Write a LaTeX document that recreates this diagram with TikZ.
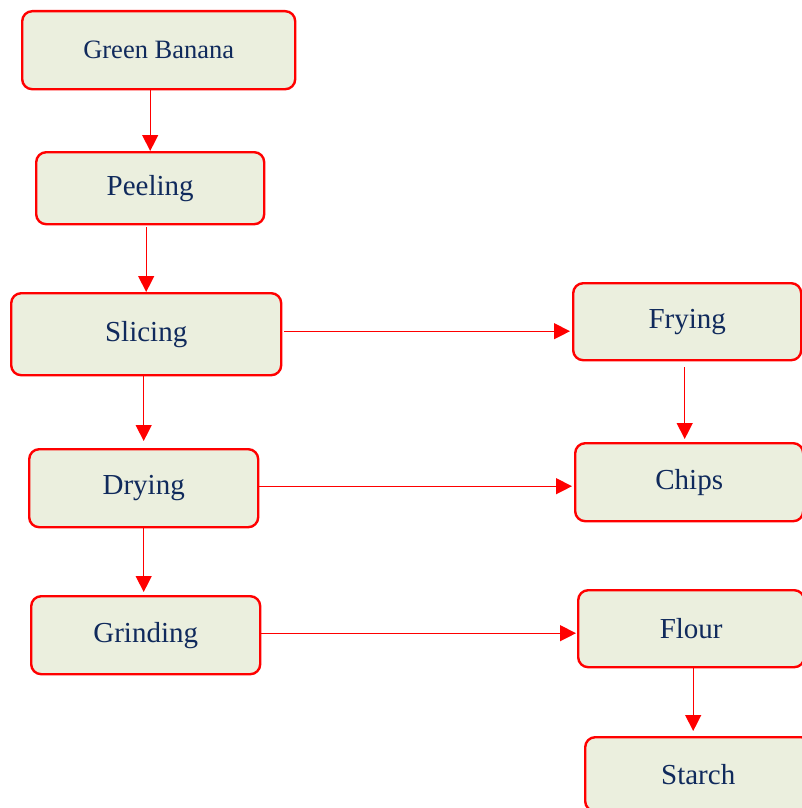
\documentclass[tikz,border=0pt]{standalone}
\usepackage{fontspec}
\setmainfont{Liberation Serif}
\usetikzlibrary{arrows.meta,calc}
\definecolor{boxfill}{RGB}{235,239,222}
\definecolor{boxtext}{RGB}{16,42,92}
\tikzset{
  stepbox/.style={draw=red, line width=2.4pt, fill=boxfill, rounded corners=10pt,
    text=boxtext, font=\fontsize{29}{33}\selectfont, inner sep=0pt, anchor=north west},
  arr/.style={draw=red, line width=1.3pt, -{Triangle[width=16pt,length=16pt]}, fill=red},
}
\begin{document}
\begin{tikzpicture}[x=1pt,y=-1pt]
\useasboundingbox (0,0) rectangle (801,808);
% left column
\node[stepbox, minimum width=273pt, minimum height=78pt, font=\fontsize{26.5}{30}\selectfont] (gb) at (21,10) {Green Banana};
\node[stepbox, minimum width=228pt, minimum height=72pt] (peel) at (35,151) {Peeling};
\node[stepbox, minimum width=270pt, minimum height=82pt] (slice) at (10,292) {Slicing};
\node[stepbox, minimum width=229pt, minimum height=78pt] (dry) at (28,448) {Drying};
\node[stepbox, minimum width=229pt, minimum height=78pt] (grind) at (30,595) {Grinding};
% right column
\node[stepbox, minimum width=228pt, minimum height=77pt] (fry) at (572,282) {Frying};
\node[stepbox, minimum width=228pt, minimum height=78pt] (chips) at (574,442) {Chips};
\node[stepbox, minimum width=226pt, minimum height=77pt] (flour) at (577,589) {Flour};
\node[stepbox, minimum width=226pt, minimum height=74pt] (starch) at (584,736) {Starch};
% vertical flow
\draw[arr] (gb.south -| peel) -- (peel.north);
\draw[arr, shorten <=2pt] (peel.south -| slice) -- (slice.north);
\draw[arr, shorten >=7pt] (slice.south -| dry) -- (dry.north);
\draw[arr, shorten >=3pt] (dry.south) -- (dry.south |- grind.north);
\draw[arr, shorten <=6pt, shorten >=3pt] ([xshift=-2.5pt]fry.south) -- ([xshift=-2.5pt]fry.south |- chips.north);
\draw[arr, shorten >=5pt] ([xshift=2pt]flour.south) -- ([xshift=2pt]flour.south |- starch.north);
% horizontal flow
\coordinate (s1) at ([xshift=2pt,yshift=3pt]slice.east);
\draw[arr, shorten >=2pt] (s1) -- (s1 -| fry.west);
\coordinate (d1) at ([yshift=2pt]dry.east);
\draw[arr, shorten >=2pt] (d1) -- (d1 -| chips.west);
\coordinate (g1) at ([yshift=2pt]grind.east);
\draw[arr, shorten >=1pt] (g1) -- (g1 -| flour.west);
\end{tikzpicture}
\end{document}
